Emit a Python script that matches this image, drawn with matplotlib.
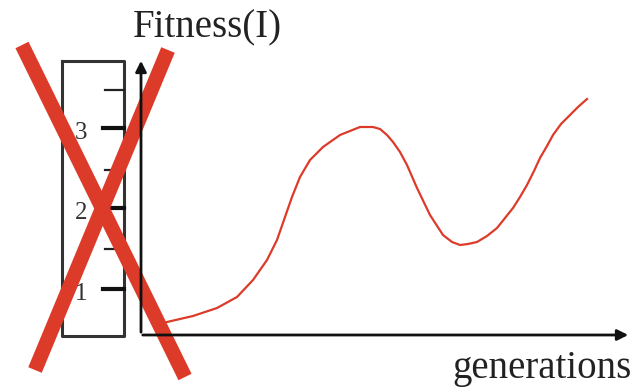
import matplotlib.pyplot as plt

# fitness curve (pixel coordinates, y grows downward)
gen_x = [167, 180, 193, 205, 217, 237, 253, 267, 277, 285, 292, 300, 310, 323,
         340, 360, 373, 380, 387, 393, 400, 407, 417, 430, 443, 452, 460, 468,
         477, 487, 497, 505, 513, 520, 527, 534, 540, 547, 553, 561, 570, 578, 587]
fit_y = [322, 319, 316, 312, 308, 297, 280, 260, 240, 217, 197, 177, 160, 147,
         135, 127, 127, 129, 135, 142, 152, 165, 188, 215, 235, 242, 245, 244,
         242, 236, 228, 218, 208, 197, 185, 171, 158, 146, 135, 124, 115, 107, 99]

# ruler ticks (y positions) and labels
major_ticks = [128, 208, 289]
minor_ticks = [90, 170, 249]
tick_labels = ["3", "2", "1"]

fig = plt.figure(figsize=(6.31, 3.91), dpi=100)
ax = fig.add_axes([0, 0, 1, 1])
ax.set_xlim(0, 631)
ax.set_ylim(391, 0)
ax.axis("off")

axis_col = "#333333"
red = "#dd3b2a"
serif = ["Liberation Serif", "DejaVu Serif"]

# ruler box
ax.plot([62, 124, 124, 62, 62], [61, 61, 336, 336, 61], color=axis_col, lw=2.2,
        solid_joinstyle="round")
for y in major_ticks:
    ax.plot([103, 124], [y, y], color="#111111", lw=3)
for y in minor_ticks:
    ax.plot([105, 124], [y, y], color="#222222", lw=1.6)
for y, lab in zip(major_ticks, tick_labels):
    ax.text(81, y + 5, lab, fontsize=18, family=serif, color="#333333",
            ha="center", va="center")

# axes with arrows
ax.annotate("", xy=(141, 58), xytext=(141, 335),
            arrowprops=dict(arrowstyle="-|>", color="#111111", lw=2, mutation_scale=16))
ax.annotate("", xy=(631, 335), xytext=(140, 335),
            arrowprops=dict(arrowstyle="-|>", color="#111111", lw=2, mutation_scale=16))

# fitness curve
ax.plot(gen_x, fit_y, color=red, lw=1.6, solid_joinstyle="round")

# labels
ax.text(133, 37, "Fitness(I)", fontsize=28, family=serif, color="#222222",
        ha="left", va="baseline")
ax.text(452, 378, "generations", fontsize=28, family=serif, color="#222222",
        ha="left", va="baseline")

# red cross
ax.plot([22, 185], [45, 377], color=red, lw=10.5, solid_capstyle="butt")
ax.plot([168, 35], [50, 370], color=red, lw=10.5, solid_capstyle="butt")

fig.savefig("out.png", dpi=100)
